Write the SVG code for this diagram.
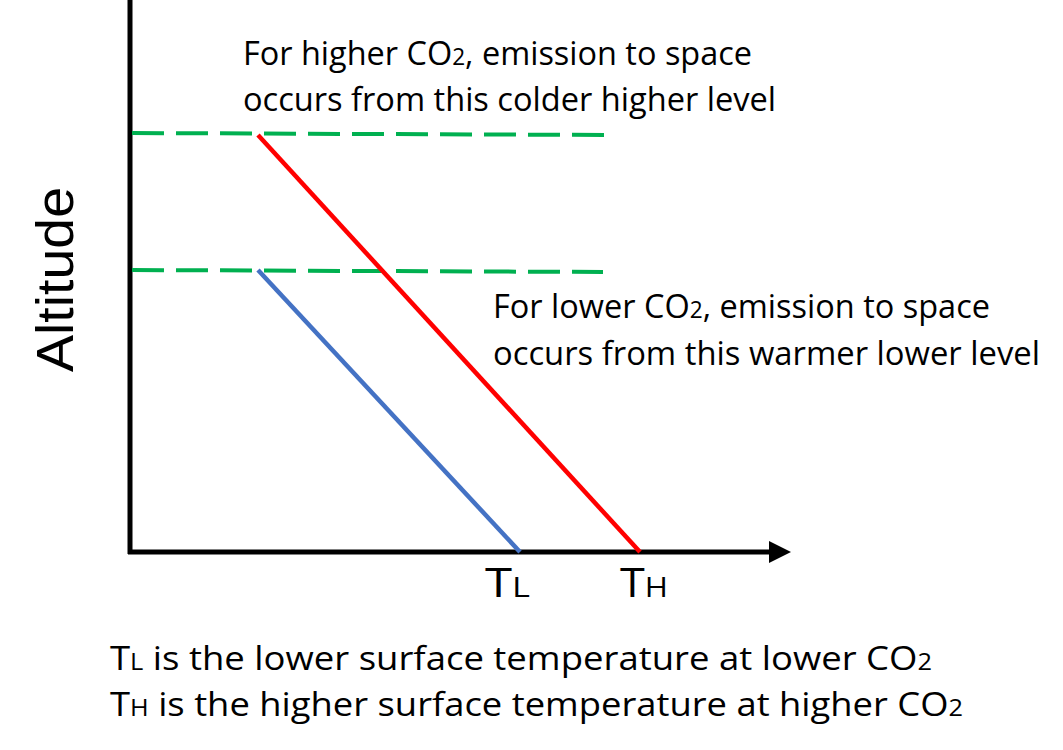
<svg xmlns="http://www.w3.org/2000/svg" width="1063" height="750" viewBox="0 0 1063 750">
<style>
text{font-family:"Open Sans","Liberation Sans",sans-serif;fill:#000}
.lbl{font-size:33px}
.tick{font-size:40px}
.sub{font-size:23px}
.tsub{font-size:28px}
.dash{stroke:#00B050;stroke-width:4;stroke-dasharray:32 12;fill:none}
.axis{stroke:#000;stroke-width:5;fill:none}
</style>
<rect width="1063" height="750" fill="#fff"/>
<g id="axes">
<line class="axis" x1="130" y1="0" x2="130" y2="554"/>
<line class="axis" x1="128" y1="552" x2="772" y2="552"/>
<polygon points="769,541 791,552 769,563" fill="#000"/>
</g>
<g id="connectors">
<line class="dash" x1="132" y1="133" x2="607" y2="135"/>
<line class="dash" x1="132" y1="270" x2="603" y2="272"/>
<line x1="258" y1="135" x2="640" y2="552" stroke="#FF0000" stroke-width="4.5"/>
<line x1="258" y1="270" x2="520" y2="552" stroke="#4472C4" stroke-width="4.5"/>
</g>
<g id="altitude-label">
<text transform="translate(73,372) rotate(-90)" style="font-family:'Liberation Sans',sans-serif;font-size:51px" textLength="185" lengthAdjust="spacingAndGlyphs">Altitude</text>
</g>
<g id="higher-label">
<text class="lbl" x="243" y="65" textLength="509" lengthAdjust="spacingAndGlyphs">For higher CO<tspan class="sub">2</tspan>, emission to space</text>
<text class="lbl" x="243" y="111" textLength="533" lengthAdjust="spacingAndGlyphs">occurs from this colder higher level</text>
</g>
<g id="lower-label">
<text class="lbl" x="493" y="318" textLength="497" lengthAdjust="spacingAndGlyphs">For lower CO<tspan class="sub">2</tspan>, emission to space</text>
<text class="lbl" x="493" y="365" textLength="547" lengthAdjust="spacingAndGlyphs">occurs from this warmer lower level</text>
</g>
<g id="tick-labels">
<text class="tick" x="485" y="597" textLength="45" lengthAdjust="spacingAndGlyphs">T<tspan class="tsub">L</tspan></text>
<text class="tick" x="620" y="597" textLength="48" lengthAdjust="spacingAndGlyphs">T<tspan class="tsub">H</tspan></text>
</g>
<g id="legend">
<text class="lbl" x="110" y="670" textLength="822" lengthAdjust="spacingAndGlyphs">T<tspan class="sub">L</tspan> is the lower surface temperature at lower CO<tspan class="sub">2</tspan></text>
<text class="lbl" x="110" y="716" textLength="853" lengthAdjust="spacingAndGlyphs">T<tspan class="sub">H</tspan> is the higher surface temperature at higher CO<tspan class="sub">2</tspan></text>
</g>
</svg>
